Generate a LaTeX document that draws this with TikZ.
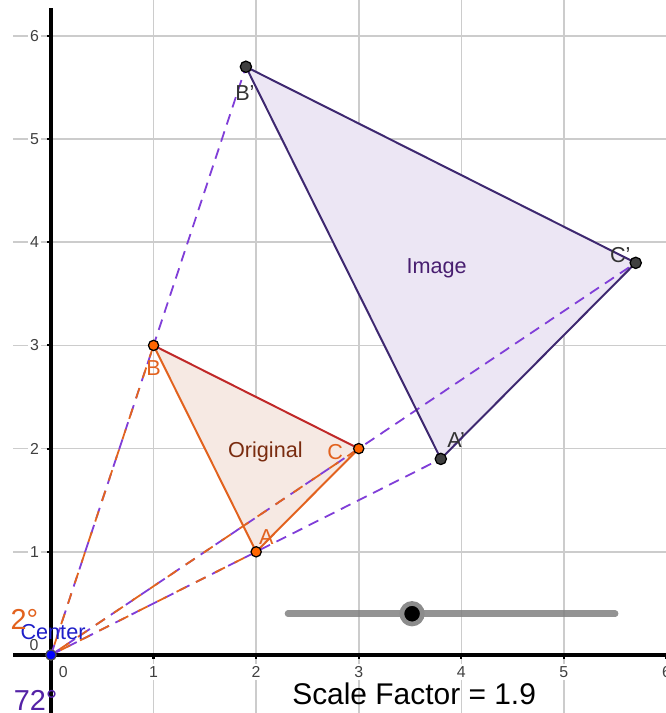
\documentclass[tikz,border=0pt]{standalone}
\usepackage{fontspec}
\setmainfont{Liberation Sans}
\usetikzlibrary{positioning}
\definecolor{gridgray}{RGB}{204,204,204}
\definecolor{ptorange}{RGB}{255,102,0}
\definecolor{origorange}{RGB}{226,98,30}
\definecolor{origred}{RGB}{192,40,40}
\definecolor{origfill}{RGB}{246,233,227}
\definecolor{origtext}{RGB}{122,44,16}
\definecolor{imgline}{RGB}{62,40,112}
\definecolor{imgfill}{RGB}{236,230,244}
\definecolor{imgtext}{RGB}{72,30,112}
\definecolor{dashpurple}{RGB}{128,62,216}
\definecolor{dashorange}{RGB}{226,100,30}
\definecolor{centerblue}{RGB}{30,30,200}
\definecolor{anglepurple}{RGB}{84,34,166}
\begin{document}
\begin{tikzpicture}[x=1cm,y=1.006cm,font=\fontsize{6}{7}\selectfont,
    grid/.style={draw=gridgray,line width=0.45pt},
    axis/.style={line width=0.9pt},
    ticklbl/.style={fill=white,inner sep=0.6pt,text=black!75,font=\fontsize{4.4}{5}\selectfont},
    origpt/.style={circle,draw=black,line width=0.35pt,fill=ptorange,inner sep=0pt,minimum size=0.1cm},
    imgpt/.style={circle,draw=black,line width=0.35pt,fill=black!75,inner sep=0pt,minimum size=0.11cm},
    centerpt/.style={circle,draw=black!70,line width=0.3pt,fill=blue,inner sep=0pt,minimum size=0.1cm},
    origray/.style={dashorange,dash pattern=on 3pt off 3pt,dash phase=3pt,line width=0.5pt},
    imgray/.style={dashpurple,dash pattern=on 3pt off 2pt,line width=0.5pt},
    origedge/.style={origorange,line width=0.55pt},
    imgedge/.style={imgline,line width=0.55pt}]
  \useasboundingbox (-0.497,-0.562) rectangle (5.994,6.347);
  \clip (-0.497,-0.562) rectangle (5.994,6.347);
  % grid and axes
  \foreach \k in {1,...,6} {
    \draw[grid] (\k,-0.6) -- (\k,6.4);
    \draw[grid] (-0.37,\k) -- (6.1,\k);
  }
  \draw[axis] (-0.37,0) -- (6.1,0);
  \draw[axis] (0,-0.6) -- (0,6.27);
  \foreach \k in {1,...,6} {
    \draw[line width=0.6pt] (\k,0) -- (\k,-0.04);
    \draw[line width=0.6pt] (0,\k) -- (-0.04,\k);
    \node[ticklbl] (xl\k) at (\k,-0.165) {\k};
    \node[ticklbl] (yl\k) at (-0.16,\k) {\k};
  }
  \node[ticklbl,fill=none] (xl0) at (0.12,-0.165) {0};
  \node[ticklbl,fill=none] (yl0) at (-0.165,0.1) {0};
  % points
  \node[centerpt] (O) at (0,0) {};
  \coordinate (A) at (2,1);
  \coordinate (B) at (1,3);
  \coordinate (C) at (3,2);
  \coordinate (Ai) at (3.8,1.9);
  \coordinate (Bi) at (1.9,5.7);
  \coordinate (Ci) at (5.7,3.8);
  % triangles
  \fill[imgfill] (Ai) -- (Bi) -- (Ci) -- cycle;
  \fill[origfill] (A) -- (B) -- (C) -- cycle;
  \draw[imgray] (O.center) -- (Ai);
  \draw[imgray] (O.center) -- (Bi);
  \draw[imgray] (O.center) -- (Ci);
  \draw[origray] (O.center) -- (A);
  \draw[origray] (O.center) -- (B);
  \draw[origray] (O.center) -- (C);
  \draw[imgedge] (Ai) -- (Bi) -- (Ci) -- cycle;
  \draw[origedge] (C) -- (A) -- (B);
  \draw[origred,line width=0.55pt] (B) -- (C);
  \node[origpt] (pA) at (A) {};
  \node[origpt] (pB) at (B) {};
  \node[origpt] (pC) at (C) {};
  \node[imgpt] (pAi) at (Ai) {};
  \node[imgpt] (pBi) at (Bi) {};
  \node[imgpt] (pCi) at (Ci) {};
  \node[centerpt] at (O) {};
  % labels
  \node[text=origorange] (labA) at (2.1,1.14) {A};
  \node[text=origorange] (labB) at (1.0,2.78) {B};
  \node[text=origorange] (labC) at (2.77,1.97) {C};
  \node[text=black!80] (labAi) at (3.95,2.08) {A'};
  \node[text=black!80] (labBi) at (1.89,5.45) {B'};
  \node[text=black!80] (labCi) at (5.55,3.88) {C'};
  \node[text=origtext] (orig) at (2.09,1.97) {Original};
  \node[text=imgtext] (img) at (3.76,3.75) {Image};
  \node[text=centerblue] (ctr) at (0.02,0.22) {Center};
  \node[text=origorange,font=\fontsize{8}{9}\selectfont] (angA) at (-0.26,0.34) {2°};
  \node[text=anglepurple,font=\fontsize{8}{9}\selectfont] (angB) at (-0.15,-0.44) {72°};
  % slider
  \coordinate (s0) at (2.31,0.40);
  \coordinate (s1) at (5.50,0.40);
  \draw[black!50,line width=1.8pt,line cap=round,opacity=0.85] (s0) -- (s1);
  \node[circle,fill=black,draw=black!45,line width=1.3pt,inner sep=0pt,minimum size=0.2cm] (knob) at (3.52,0.40) {};
  \node[font=\fontsize{8.3}{10}\selectfont] (sf) at (3.54,-0.38) {Scale Factor = 1.9};
\end{tikzpicture}
\end{document}
